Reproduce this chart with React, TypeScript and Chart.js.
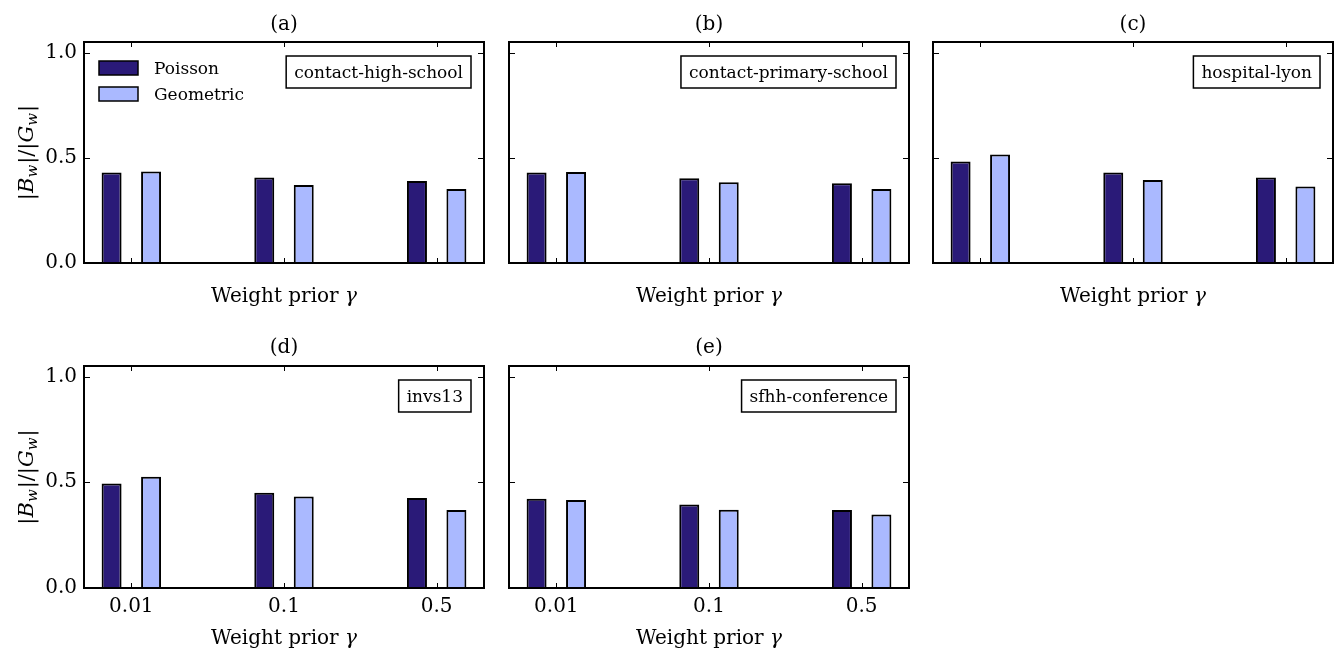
import React, { useEffect, useRef } from "react";
import { Chart, registerables } from "chart.js";

Chart.register(...registerables);

// ---------- data ----------
const categories = ["0.01", "0.1", "0.5"];
const xPositions = [0, 1, 2];
const yTickValues = [0, 0.5, 1.0];
const seriesNames = ["Poisson", "Geometric"];
const panelLetters = ["(a)", "(b)", "(c)", "(d)", "(e)"];
const datasetNames = [
  "contact-high-school",
  "contact-primary-school",
  "hospital-lyon",
  "invs13",
  "sfhh-conference",
];

const poissonA = [0.43, 0.406, 0.39];
const geometricA = [0.435, 0.371, 0.351];
const poissonB = [0.43, 0.403, 0.379];
const geometricB = [0.432, 0.384, 0.351];
const poissonC = [0.482, 0.43, 0.406];
const geometricC = [0.516, 0.394, 0.363];
const poissonD = [0.494, 0.451, 0.426];
const geometricD = [0.526, 0.433, 0.369];
const poissonE = [0.422, 0.395, 0.369];
const geometricE = [0.416, 0.37, 0.348];

const panelSeries = [
  [poissonA, geometricA],
  [poissonB, geometricB],
  [poissonC, geometricC],
  [poissonD, geometricD],
  [poissonE, geometricE],
];

const xTitle = "Weight prior ";
const xTitleSymbol = "γ";

// ---------- style ----------
const COLORS = ["#2a1a78", "#aab9ff"];
const FONT = '"DejaVu Serif", "Liberation Serif", serif';

// layout of panels (plot areas)
const PLOT_W = 400;
const LEFT_AREA = 84;
const TOP_AREA = 42;
const panelLayout = [
  { plotLeft: 84, row: 0 },
  { plotLeft: 509, row: 0 },
  { plotLeft: 933, row: 0 },
  { plotLeft: 84, row: 1 },
  { plotLeft: 509, row: 1 },
];
const rows = [
  { plotTop: 42, plotH: 221, bottomH: 57, xTitleBase: 38.7, letterBase: -12.5 },
  { plotTop: 366, plotH: 222, bottomH: 62, xTitleBase: 55.6, letterBase: -13.5 },
];

const decorPlugin = {
  id: "panelDecor",
  afterDatasetsDraw(chart: any, _args: any, opts: any) {
    const { ctx, chartArea: a, scales } = chart;
    const x = scales.x;
    const y = scales.y;
    ctx.save();
    ctx.strokeStyle = "#000";
    ctx.fillStyle = "#000";
    // inward ticks on all four sides
    ctx.lineWidth = 1;
    const line = (x1: number, y1: number, x2: number, y2: number) => {
      ctx.beginPath();
      ctx.moveTo(x1, y1);
      ctx.lineTo(x2, y2);
      ctx.stroke();
    };
    for (const v of xPositions) {
      const px = Math.round(x.getPixelForValue(v)) + 0.5;
      line(px, a.top, px, a.top + 5);
      line(px, a.bottom, px, a.bottom - 5);
    }
    for (const v of yTickValues) {
      const py = Math.round(y.getPixelForValue(v)) + 0.5;
      line(a.left, py, a.left + 6, py);
      line(a.right, py, a.right - 6, py);
    }
    // frame
    ctx.lineWidth = 2;
    ctx.strokeRect(a.left, a.top, a.right - a.left, a.bottom - a.top);

    const cx = (a.left + a.right) / 2;
    // panel letter
    ctx.font = `20px ${FONT}`;
    ctx.textAlign = "center";
    ctx.textBaseline = "alphabetic";
    ctx.fillText(opts.letter, cx, a.top + opts.letterBase);

    // x title with italic gamma
    ctx.font = `20px ${FONT}`;
    const w1 = ctx.measureText(xTitle).width;
    ctx.font = `italic 20px ${FONT}`;
    const w2 = ctx.measureText(xTitleSymbol).width;
    const startX = cx - (w1 + w2) / 2;
    ctx.textAlign = "left";
    ctx.font = `20px ${FONT}`;
    ctx.fillText(xTitle, startX, a.bottom + opts.xTitleBase);
    ctx.font = `italic 20px ${FONT}`;
    ctx.fillText(xTitleSymbol, startX + w1, a.bottom + opts.xTitleBase);

    // dataset name box
    ctx.font = `17px ${FONT}`;
    const tw = ctx.measureText(opts.name).width;
    const bw = tw + 16;
    const bh = 32;
    const bx = a.right - 13 - bw;
    const by = a.top + 14;
    ctx.fillStyle = "#fff";
    ctx.fillRect(bx, by, bw, bh);
    ctx.lineWidth = 1.5;
    ctx.strokeRect(bx, by, bw, bh);
    ctx.fillStyle = "#000";
    ctx.textAlign = "center";
    ctx.fillText(opts.name, bx + bw / 2, by + 21.5);

    // legend
    if (opts.legend) {
      chart.data.datasets.forEach((ds: any, i: number) => {
        const sx = a.left + 15;
        const sy = a.top + 19 + i * 26;
        ctx.fillStyle = ds.backgroundColor;
        ctx.fillRect(sx, sy, 39, 14);
        ctx.lineWidth = 1.5;
        ctx.strokeStyle = "#000";
        ctx.strokeRect(sx, sy, 39, 14);
        ctx.fillStyle = "#000";
        ctx.textAlign = "left";
        ctx.font = `17px ${FONT}`;
        ctx.fillText(ds.label, a.left + 70, a.top + 32 + i * 26);
      });
    }

    // y title |B_w|/|G_w|
    if (opts.yTitle) {
      const cy = (a.top + a.bottom) / 2;
      const parts: [string, string][] = [
        ["|", "n"],
        ["B", "i"],
        ["w", "s"],
        ["|/|", "n"],
        ["G", "i"],
        ["w", "s"],
        ["|", "n"],
      ];
      const fontFor = (k: string) =>
        k === "n" ? `21px ${FONT}` : k === "i" ? `italic 21px ${FONT}` : `italic 15px ${FONT}`;
      let total = 0;
      const widths = parts.map(([t, k]) => {
        ctx.font = fontFor(k);
        const w = ctx.measureText(t).width + (k === "s" ? 1 : 0);
        total += w;
        return w;
      });
      ctx.translate(33, cy);
      ctx.rotate(-Math.PI / 2);
      ctx.textAlign = "left";
      let px = -total / 2;
      parts.forEach(([t, k], i) => {
        ctx.font = fontFor(k);
        ctx.fillText(t, px, k === "s" ? 4 : 0);
        px += widths[i];
      });
    }
    ctx.restore();
  },
};

function Panel({ index }: { index: number }) {
  const ref = useRef<HTMLCanvasElement | null>(null);
  const lay = panelLayout[index];
  const row = rows[lay.row];
  const rightPad = Math.min(6, 1336 - (lay.plotLeft + PLOT_W));
  const width = LEFT_AREA + PLOT_W + rightPad;
  const height = TOP_AREA + row.plotH + row.bottomH;
  const left = lay.plotLeft - LEFT_AREA;
  const top = row.plotTop - TOP_AREA;
  const showYTicks = index === 0 || index === 3;
  const showXTicks = lay.row === 1;

  useEffect(() => {
    if (!ref.current) return;
    const series = panelSeries[index];
    const chart = new Chart(ref.current, {
      type: "bar",
      data: {
        datasets: series.map((vals, si) => ({
          label: seriesNames[si],
          data: xPositions.map((xv, k) => ({ x: xv, y: vals[k] })),
          backgroundColor: COLORS[si],
          borderColor: "#000",
          borderWidth: 2,
          borderSkipped: "start",
          inflateAmount: 0,
          categoryPercentage: 0.517,
          barPercentage: 0.506,
        })),
      },
      plugins: [decorPlugin],
      options: {
        responsive: false,
        animation: false,
        devicePixelRatio: 1,
        layout: { padding: { top: TOP_AREA, right: rightPad, left: 0, bottom: 0 } },
        plugins: {
          legend: { display: false },
          title: { display: false },
          tooltip: { enabled: false },
          panelDecor: {
            letter: panelLetters[index],
            name: datasetNames[index],
            legend: index === 0,
            yTitle: showYTicks,
            xTitleBase: row.xTitleBase,
            letterBase: row.letterBase,
          },
        } as any,
        scales: {
          x: {
            type: "linear",
            min: -0.31,
            max: 2.31,
            offset: false,
            grid: { display: false, drawTicks: false },
            border: { display: false },
            afterBuildTicks: (s: any) => {
              s.ticks = xPositions.map((v) => ({ value: v }));
            },
            afterFit: (s: any) => {
              s.height = row.bottomH;
            },
            ticks: {
              display: showXTicks,
              padding: 7,
              color: "#000",
              font: { family: FONT, size: 20 },
              maxRotation: 0,
              callback: (v: any) => categories[Math.round(Number(v))],
            },
          },
          y: {
            type: "linear",
            min: 0,
            max: 1.05,
            grid: { display: false, drawTicks: false },
            border: { display: false },
            afterBuildTicks: (s: any) => {
              s.ticks = yTickValues.map((v) => ({ value: v }));
            },
            afterFit: (s: any) => {
              s.width = LEFT_AREA;
            },
            ticks: {
              display: showYTicks,
              padding: 7,
              color: "#000",
              font: { family: FONT, size: 20 },
              callback: (v: any) => Number(v).toFixed(1),
            },
          },
        },
      } as any,
    });
    return () => chart.destroy();
  }, [index]);

  return (
    <canvas
      ref={ref}
      width={width}
      height={height}
      style={{ position: "absolute", left, top, width, height }}
    />
  );
}

export default function App() {
  return (
    <div
      style={{
        position: "fixed",
        left: 0,
        top: 0,
        width: 1336,
        height: 650,
        background: "#fff",
        overflow: "hidden",
      }}
    >
      {panelLetters.map((_, i) => (
        <Panel key={i} index={i} />
      ))}
    </div>
  );
}
